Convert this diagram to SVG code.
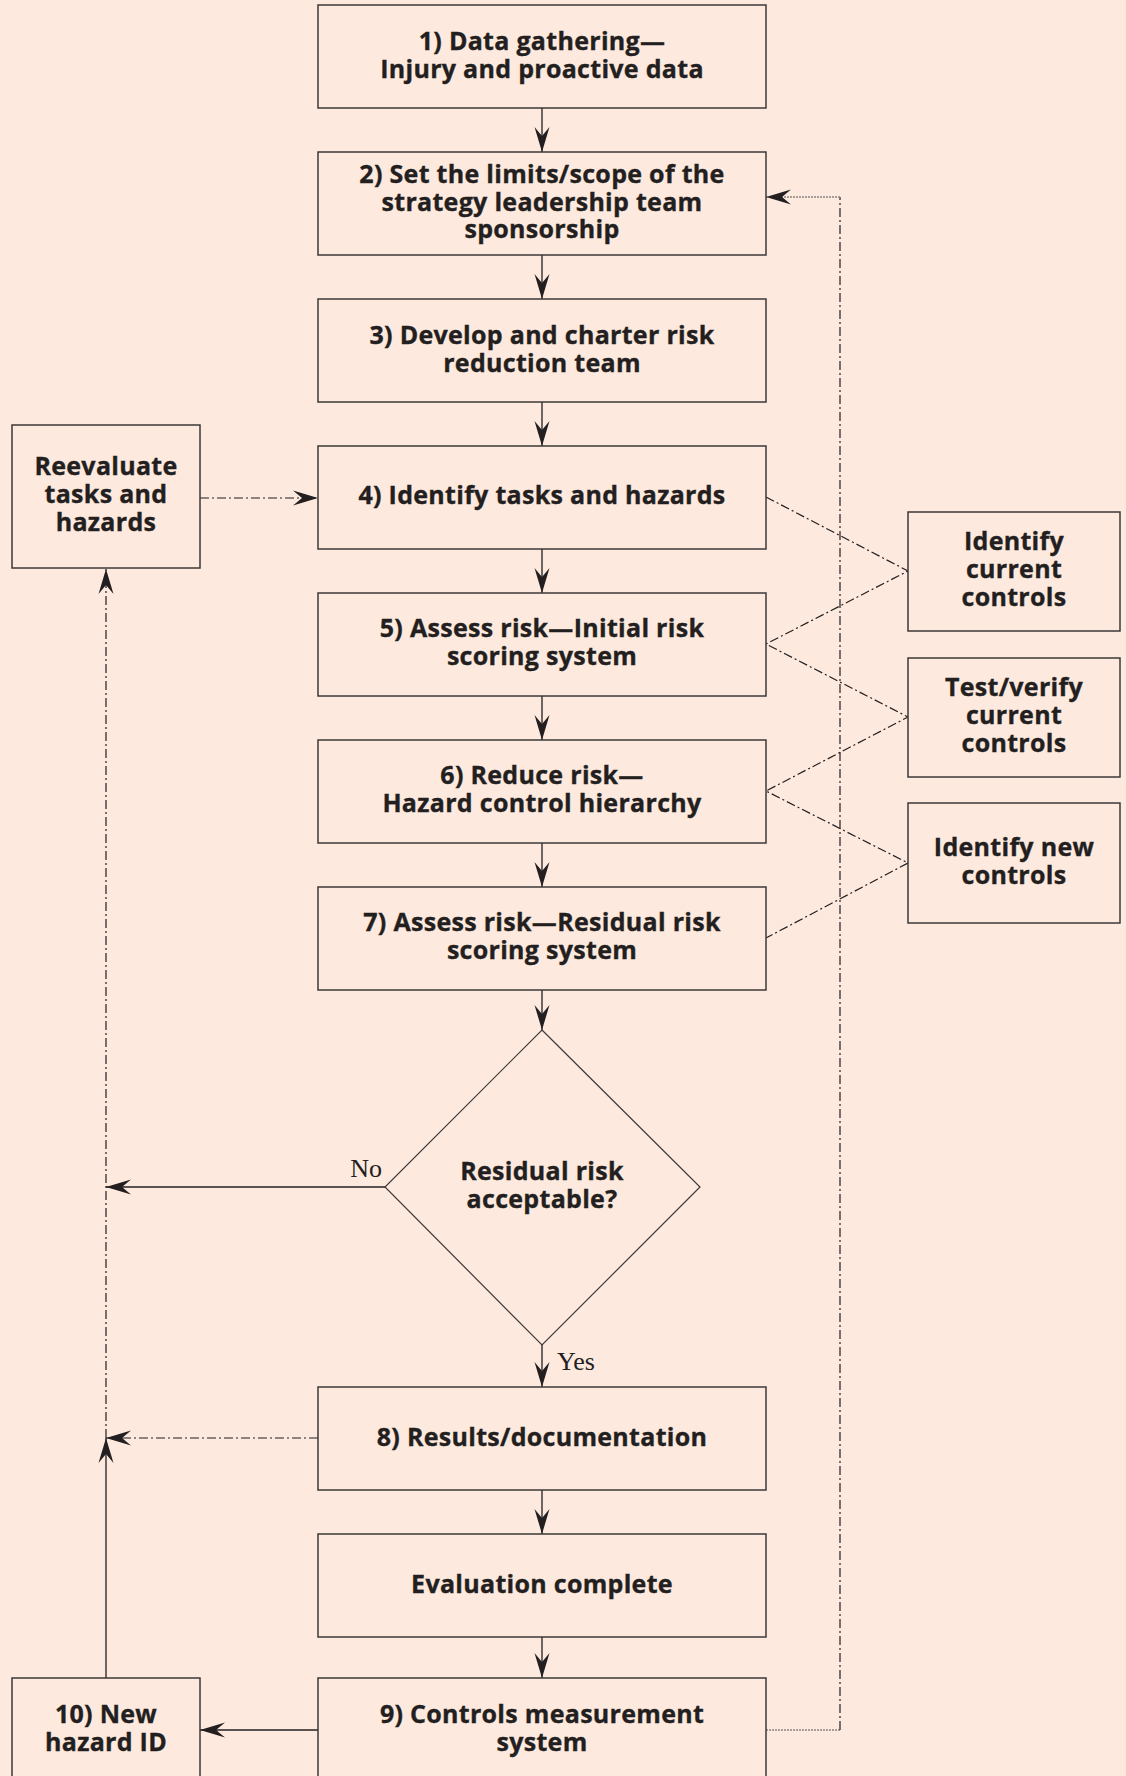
<svg xmlns="http://www.w3.org/2000/svg" width="1126" height="1776" viewBox="0 0 1126 1776">
<defs>
<style>
.box{fill:#fde9de;stroke:#3d3939;stroke-width:1.5}
.dia{fill:#fde9de;stroke:#3d3939;stroke-width:1.2}
.t{font-family:"Open Sans","Noto Sans","DejaVu Sans",sans-serif;font-weight:700;font-size:25px;letter-spacing:0.3px;fill:#231f20;stroke:#231f20;stroke-width:0.35;text-anchor:middle}
.s{font-family:"Liberation Serif","Times New Roman",serif;font-size:26px;fill:#231f20}
.ln{fill:none;stroke:#231f20;stroke-width:1.3}
.dd{fill:none;stroke:#231f20;stroke-width:1.2;stroke-dasharray:9 3 2 3}
.dt{fill:none;stroke:#8a8583;stroke-width:1.3;stroke-dasharray:2 1}
</style>
<marker id="ah" markerUnits="userSpaceOnUse" markerWidth="30" markerHeight="20" viewBox="-26 -10 30 20" refX="0" refY="0" orient="auto">
<path d="M0,0 L-25,-7.5 L-16,0 L-25,7.5 Z" fill="#231f20"/>
</marker>
</defs>
<rect x="0" y="0" width="1126" height="1776" fill="#fde9de"/>

<g id="connectors">
<path class="ln" d="M542,108 V152" marker-end="url(#ah)"/>
<path class="ln" d="M542,255 V299" marker-end="url(#ah)"/>
<path class="ln" d="M542,402 V446" marker-end="url(#ah)"/>
<path class="ln" d="M542,549 V593" marker-end="url(#ah)"/>
<path class="ln" d="M542,696 V740" marker-end="url(#ah)"/>
<path class="ln" d="M542,843 V887" marker-end="url(#ah)"/>
<path class="ln" d="M542,990 V1030" marker-end="url(#ah)"/>
<path class="ln" d="M542,1345 V1387" marker-end="url(#ah)"/>
<path class="ln" d="M542,1490 V1534" marker-end="url(#ah)"/>
<path class="ln" d="M542,1637 V1678" marker-end="url(#ah)"/>
<path class="dd" d="M200,498 H318" marker-end="url(#ah)"/>
<path class="ln" d="M385,1187 H106" marker-end="url(#ah)"/>
<path class="dd" d="M318,1438 H106" marker-end="url(#ah)"/>
<path class="ln" d="M106,1678 V1438" marker-end="url(#ah)"/>
<path class="dd" d="M106,1438 V569" marker-end="url(#ah)"/>
<path class="ln" d="M318,1730 H200" marker-end="url(#ah)"/>
<path class="dt" d="M766,1730 H840"/>
<path class="dd" d="M840,1730 V197"/>
<path class="dt" d="M840,197 H766" marker-end="url(#ah)"/>
<path class="dd" stroke-width="1" d="M766,497 L908,571 L766,644 L908,717 L766,791 L908,863 L766,938"/>
<text class="s" x="382" y="1177" text-anchor="end">No</text>
<text class="s" x="557" y="1370">Yes</text>
</g>

<g id="n1"><rect class="box" x="318" y="5" width="448" height="103"/>
<text class="t" x="542" y="50">1) Data gathering—<tspan x="542" dy="28">Injury and proactive data</tspan></text></g>
<g id="n2"><rect class="box" x="318" y="152" width="448" height="103"/>
<text class="t" x="542" y="183">2) Set the limits/scope of the<tspan x="542" dy="28">strategy leadership team</tspan><tspan x="542" dy="27">sponsorship</tspan></text></g>
<g id="n3"><rect class="box" x="318" y="299" width="448" height="103"/>
<text class="t" x="542" y="344">3) Develop and charter risk<tspan x="542" dy="28">reduction team</tspan></text></g>
<g id="n4"><rect class="box" x="318" y="446" width="448" height="103"/>
<text class="t" x="542" y="504">4) Identify tasks and hazards</text></g>
<g id="n5"><rect class="box" x="318" y="593" width="448" height="103"/>
<text class="t" x="542" y="637">5) Assess risk—Initial risk<tspan x="542" dy="28">scoring system</tspan></text></g>
<g id="n6"><rect class="box" x="318" y="740" width="448" height="103"/>
<text class="t" x="542" y="784">6) Reduce risk—<tspan x="542" dy="28">Hazard control hierarchy</tspan></text></g>
<g id="n7"><rect class="box" x="318" y="887" width="448" height="103"/>
<text class="t" x="542" y="931">7) Assess risk—Residual risk<tspan x="542" dy="28">scoring system</tspan></text></g>
<g id="decision"><polygon class="dia" points="542,1030 700,1187 542,1345 385,1187"/>
<text class="t" x="542" y="1180">Residual risk<tspan x="542" dy="28">acceptable?</tspan></text></g>
<g id="n8"><rect class="box" x="318" y="1387" width="448" height="103"/>
<text class="t" x="542" y="1446">8) Results/documentation</text></g>
<g id="eval"><rect class="box" x="318" y="1534" width="448" height="103"/>
<text class="t" x="542" y="1593">Evaluation complete</text></g>
<g id="n9"><rect class="box" x="318" y="1678" width="448" height="103"/>
<text class="t" x="542" y="1723">9) Controls measurement<tspan x="542" dy="28">system</tspan></text></g>
<g id="n10"><rect class="box" x="12" y="1678" width="188" height="103"/>
<text class="t" x="106" y="1723">10) New<tspan x="106" dy="28">hazard ID</tspan></text></g>
<g id="reeval"><rect class="box" x="12" y="425" width="188" height="143"/>
<text class="t" x="106" y="475">Reevaluate<tspan x="106" dy="28">tasks and</tspan><tspan x="106" dy="28">hazards</tspan></text></g>
<g id="c1"><rect class="box" x="908" y="512" width="212" height="119"/>
<text class="t" x="1014" y="550">Identify<tspan x="1014" dy="28">current</tspan><tspan x="1014" dy="28">controls</tspan></text></g>
<g id="c2"><rect class="box" x="908" y="658" width="212" height="119"/>
<text class="t" x="1014" y="696">Test/verify<tspan x="1014" dy="28">current</tspan><tspan x="1014" dy="28">controls</tspan></text></g>
<g id="c3"><rect class="box" x="908" y="803" width="212" height="120"/>
<text class="t" x="1014" y="856">Identify new<tspan x="1014" dy="28">controls</tspan></text></g>
</svg>
